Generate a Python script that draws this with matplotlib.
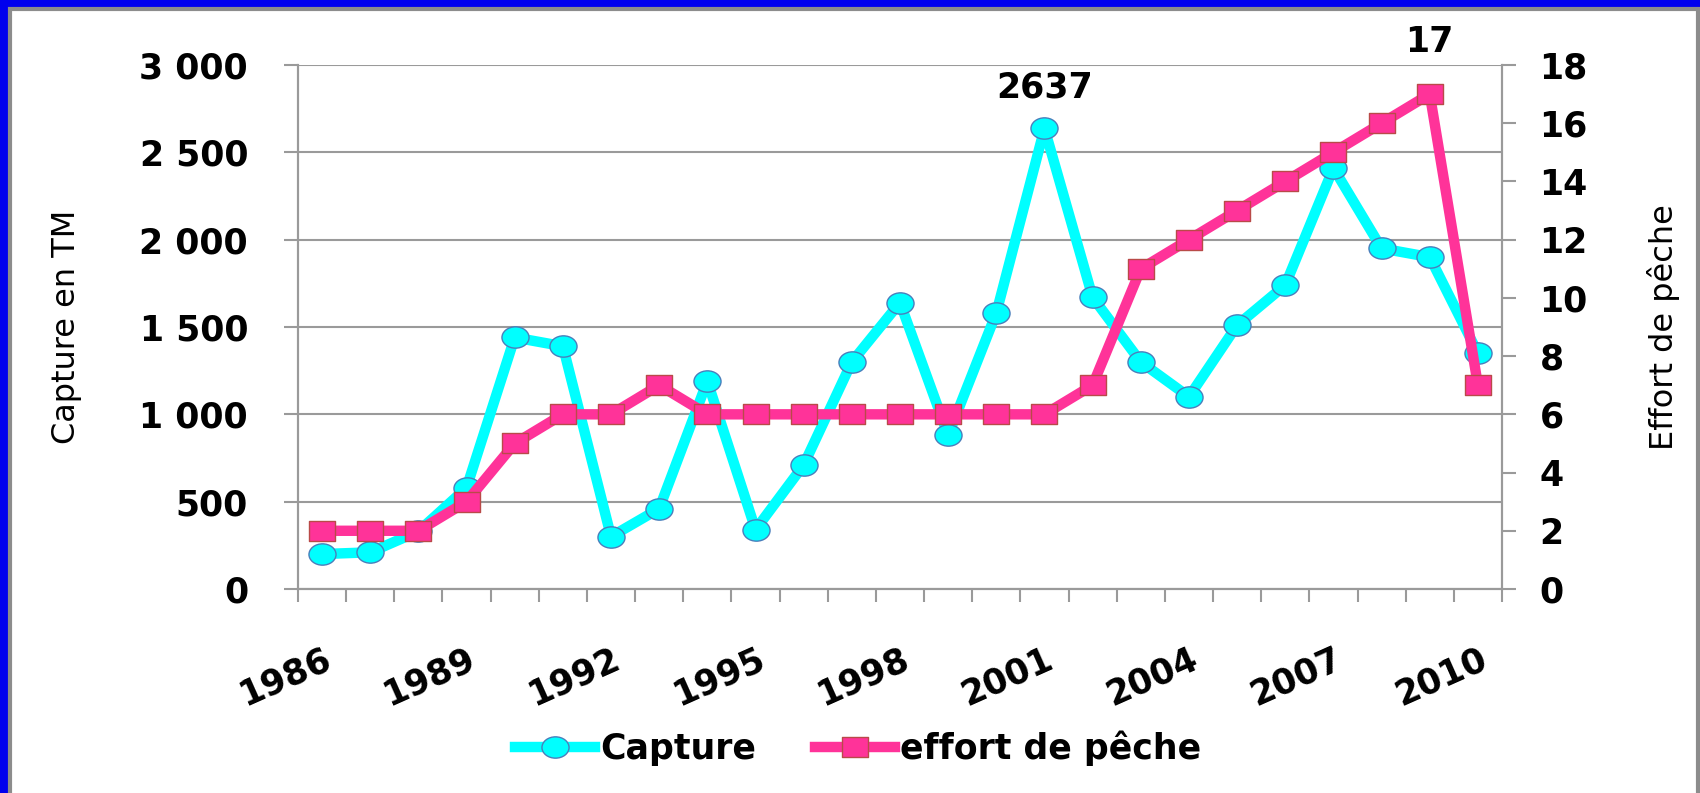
import numpy as np
import matplotlib
matplotlib.use("Agg")
import matplotlib.pyplot as plt
from matplotlib.patches import Rectangle
from matplotlib.path import Path
from matplotlib.transforms import Affine2D

# data
years = list(range(1986, 2011))
capture = [200, 210, 330, 580, 1440, 1390, 300, 460, 1190, 340, 710, 1300, 1640,
           880, 1580, 2637, 1670, 1300, 1100, 1510, 1740, 2410, 1950, 1900, 1350]
effort = [2, 2, 2, 3, 5, 6, 6, 7, 6, 6, 6, 6, 6, 6, 6, 6, 7, 11, 12, 13, 14, 15, 16, 17, 7]
left_ticks = [0, 500, 1000, 1500, 2000, 2500, 3000]
left_labels = ["0", "500", "1 000", "1 500", "2 000", "2 500", "3 000"]
right_ticks = [0, 2, 4, 6, 8, 10, 12, 14, 16, 18]
label_years = [1986, 1989, 1992, 1995, 1998, 2001, 2004, 2007, 2010]

plt.rcParams['font.family'] = ['DejaVu Sans']

cyan = '#00FFFF'
pink = '#FF3399'
grey = '#9A9A9A'
fs = 25

# the slide picture is stretched sideways, so the markers are too
oval = Path.unit_circle().transformed(Affine2D().scale(1.27, 1.0))
box = Path([(-1.27, -1), (1.27, -1), (1.27, 1), (-1.27, 1), (-1.27, -1)],
           [Path.MOVETO, Path.LINETO, Path.LINETO, Path.LINETO, Path.CLOSEPOLY])

fig = plt.figure(figsize=(17, 7.93), dpi=100)
fig.patch.set_facecolor('#0000EE')
# white slide panel with grey edge
fig.patches.append(Rectangle((10 / 1700, -0.05), 1688 / 1700, 1.05 - 9 / 793,
                             transform=fig.transFigure, facecolor='white',
                             edgecolor='#8C8C8C', linewidth=3, zorder=-10))

ax = fig.add_axes([298 / 1700, 1 - 589 / 793, 1204 / 1700, 524 / 793])
ax.set_facecolor('none')
x = np.arange(len(years))

ax.plot(x, capture, color=cyan, lw=7.5, marker=oval, ms=19.5, mfc=cyan,
        mec='#4A7EBB', mew=1, label='Capture', zorder=3)
ax.set_xlim(-0.5, len(years) - 0.5)
ax.set_ylim(0, 3000)
ax.set_yticks(left_ticks)
ax.set_yticklabels(left_labels)
ax.yaxis.grid(True, color=grey, lw=1.5)
ax.set_axisbelow(True)

idx = [years.index(y) for y in label_years]
ax.set_xticks(idx)
ax.set_xticklabels([str(y) for y in label_years], rotation=24, ha='right',
                   va='top', rotation_mode='anchor')
ax.set_xticks(np.arange(-0.5, len(years)), minor=True)
ax.tick_params(axis='x', which='major', length=0, pad=38)
ax.tick_params(axis='x', which='minor', length=9, width=1.5, color=grey, direction='out')
ax.tick_params(axis='y', length=10, width=1.5, color=grey, pad=26)
for lab in ax.get_xticklabels() + ax.get_yticklabels():
    lab.set_fontsize(fs)
    lab.set_fontweight('bold')
ax.set_ylabel('Capture en TM', fontsize=23)
ax.yaxis.set_label_coords((67 - 298) / 1204, 0.5)
ax.yaxis.label.set_va('center')

ax2 = ax.twinx()
ax2.plot(x, effort, color=pink, lw=7.5, marker=box, ms=18.5, mfc=pink,
         mec='#B94A48', mew=1, label='effort de pêche', zorder=4)
ax2.set_ylim(0, 18)
ax2.set_yticks(right_ticks)
ax2.tick_params(axis='y', length=10, width=1.5, color=grey, pad=17)
for lab in ax2.get_yticklabels():
    lab.set_fontsize(fs)
    lab.set_fontweight('bold')
ax2.set_ylabel('Effort de pêche', fontsize=23)
ax2.yaxis.set_label_coords((1664 - 298) / 1204, 0.5)
ax2.yaxis.label.set_va('center')

for a in (ax, ax2):
    for s in a.spines.values():
        s.set_color(grey)
        s.set_linewidth(1.5)
    a.spines['top'].set_visible(False)

# data labels
i01 = years.index(2001)
ax.annotate(str(capture[i01]), (i01, capture[i01]), xytext=(0, 22),
            textcoords='offset points', ha='center', va='baseline',
            fontsize=fs, fontweight='bold')
i09 = years.index(2009)
ax2.annotate(str(effort[i09]), (i09, effort[i09]), xytext=(0, 30),
             textcoords='offset points', ha='center', va='baseline',
             fontsize=fs, fontweight='bold', annotation_clip=False)

h1, l1 = ax.get_legend_handles_labels()
h2, l2 = ax2.get_legend_handles_labels()
fig.legend(h1 + h2, l1 + l2, loc='center', bbox_to_anchor=(858 / 1700, 1 - 748 / 793),
           ncol=2, frameon=False, handlelength=2.3, handletextpad=0.15,
           columnspacing=1.7, prop={'size': fs, 'weight': 'bold'})

fig.savefig('out.png', dpi=100, facecolor=fig.get_facecolor())
